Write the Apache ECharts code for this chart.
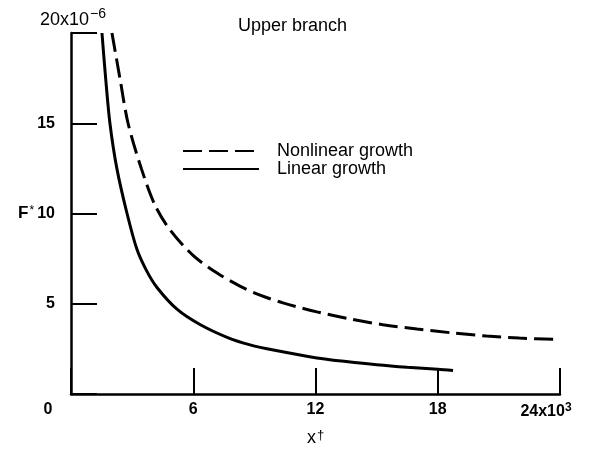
<!DOCTYPE html>
<html>
<head>
<meta charset="utf-8">
<script src="https://cdn.jsdelivr.net/npm/echarts@6/dist/echarts.min.js"></script>
<style>html,body{margin:0;padding:0;background:#fff}#c{width:609px;height:459px}</style>
</head>
<body>
<div id="c"></div>
<script>
// ---- data ----
const xTicks = [0, 6, 12, 18, 24];
const xTickLabels = ['0', '6', '12', '18', '24x10'];
const xExponent = '3';
const yTicks = [0, 5, 10, 15, 20];
const yTickLabels = ['', '5', '10', '15', ''];
const yTopLabel = '20x10';
const yExponent = '\u22126';
const seriesNames = ['Nonlinear growth', 'Linear growth'];
const linearX = [1.52, 1.7, 1.91, 2.25, 2.75, 3.24, 3.7, 4.22, 5.2, 6.33, 7.66, 8.79, 10.0, 12.07, 13.5, 15.0, 16.5, 18.0, 18.75];
const linearY = [20, 17.5, 15, 12.5, 10.0, 8.0, 6.85, 5.9, 4.7, 3.85, 3.14, 2.72, 2.42, 2.0, 1.8, 1.62, 1.48, 1.37, 1.3];
const nonlinearX = [2.01, 2.4, 2.8, 3.45, 4.12, 4.86, 5.99, 7.17, 8.29, 9.28, 10.4, 12.07, 13.69, 15.31, 16.98, 18.75, 20.4, 22.0, 23.85];
const nonlinearY = [20, 17.5, 15, 12.5, 10.47, 9.09, 7.68, 6.7, 5.98, 5.48, 5.05, 4.55, 4.16, 3.84, 3.6, 3.38, 3.21, 3.1, 3.02];
const titleText = 'Upper branch';

// ---- chart ----
const FONT = '"Liberation Sans", Arial, Helvetica, sans-serif';
const zip = (xs, ys) => xs.map((x, i) => [x, ys[i]]);
const chart = echarts.init(document.getElementById('c'), null, {renderer: 'canvas'});
chart.setOption({
  animation: false,
  backgroundColor: '#fff',
  title: {
    text: titleText, left: 233, top: 12,
    textStyle: {fontFamily: FONT, fontSize: 18, fontWeight: 'normal', color: '#000'}
  },
  legend: {
    orient: 'vertical', left: 182, top: 142, padding: 0,
    itemWidth: 76, itemHeight: 14, itemGap: 0,
    itemStyle: {opacity: 0},
    data: seriesNames,
    textStyle: {fontFamily: FONT, fontSize: 18, lineHeight: 18, color: '#000', padding: [0, 0, 0, 13]}
  },
  grid: {left: 71, right: 49, top: 33, bottom: 65, containLabel: false},
  xAxis: {
    type: 'value', min: 0, max: 24, interval: 6,
    name: '{a|x}{b|\u2020}', nameLocation: 'middle', nameGap: 35,
    nameTextStyle: {
      fontFamily: FONT, color: '#000',
      rich: {a: {fontSize: 18, fontFamily: FONT, color: '#000'}, b: {fontSize: 13, fontFamily: FONT, color: '#000', verticalAlign: 'bottom', padding: [0, 0, 6, 1]}}
    },
    splitLine: {show: false},
    axisLine: {show: true, onZero: false, lineStyle: {color: '#000', width: 2.5}},
    axisTick: {show: true, inside: true, length: 26, lineStyle: {color: '#000', width: 2}},
    axisLabel: {
      margin: 8, color: '#000', fontFamily: FONT, fontSize: 16, fontWeight: 'bold',
      formatter: function (v) {
        const i = xTicks.indexOf(v);
        if (i < 0) return '';
        if (i === 0) return '{z|' + xTickLabels[i] + '}';
        if (i === xTicks.length - 1) return '{m|' + xTickLabels[i] + '}{s|' + xExponent + '}';
        return xTickLabels[i];
      },
      rich: {
        z: {fontFamily: FONT, fontSize: 16, fontWeight: 'bold', color: '#000', padding: [0, 46, 0, 0]},
        m: {fontFamily: FONT, fontSize: 16, fontWeight: 'bold', color: '#000'},
        s: {fontFamily: FONT, fontSize: 12, fontWeight: 'bold', color: '#000', verticalAlign: 'bottom', padding: [0, 28, 8, 0]}
      }
    }
  },
  yAxis: {
    type: 'value', min: 0, max: 20, interval: 5,
    name: '{a|' + yTopLabel + '}{b|' + yExponent + '}', nameLocation: 'end', nameGap: 0,
    nameTextStyle: {
      align: 'left', padding: [0, 0, 0, -31],
      rich: {
        a: {fontFamily: FONT, fontSize: 18, color: '#000'},
        b: {fontFamily: FONT, fontSize: 14, color: '#000', verticalAlign: 'bottom', padding: [0, 0, 12, 1]}
      }
    },
    splitLine: {show: false},
    axisLine: {show: true, lineStyle: {color: '#000', width: 2.5}},
    axisTick: {show: true, inside: true, length: 26, lineStyle: {color: '#000', width: 2}},
    axisLabel: {
      margin: 16, color: '#000', fontFamily: FONT, fontSize: 16, fontWeight: 'bold',
      formatter: function (v) { const i = yTicks.indexOf(v); return i < 0 ? '' : yTickLabels[i]; }
    }
  },
  graphic: [{
    type: 'text', left: 18, top: 205,
    style: {
      text: '{a|F}{b|*}', fill: '#000',
      rich: {a: {fontFamily: FONT, fontSize: 17, fontWeight: 'bold', fill: '#000'}, b: {fontFamily: FONT, fontSize: 12, fill: '#000', verticalAlign: 'top', padding: [0, 0, 0, 1]}}
    }
  }],
  series: [{
    name: seriesNames[0], type: 'line', data: zip(nonlinearX, nonlinearY),
    smooth: 0.3, symbol: 'none', showSymbol: false,
    itemStyle: {color: '#000'},
    lineStyle: {color: '#000', width: 3, type: [19, 7]}
  }, {
    name: seriesNames[1], type: 'line', data: zip(linearX, linearY),
    smooth: 0.3, symbol: 'none', showSymbol: false,
    itemStyle: {color: '#000'},
    lineStyle: {color: '#000', width: 3, type: 'solid'}
  }]
});
</script>
</body>
</html>
